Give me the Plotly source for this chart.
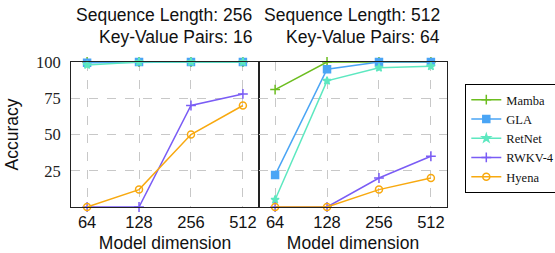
import plotly.graph_objects as go

dims = ["64", "128", "256", "512"]

# Left panel: Sequence Length 256, Key-Value Pairs 16
mamba_l = [100, 100, 100, 100]
gla_l = [99.5, 100, 100, 100]
retnet_l = [98, 100, 100, 100]
rwkv_l = [0, 0, 70, 78]
hyena_l = [0, 12, 50, 70]

# Right panel: Sequence Length 512, Key-Value Pairs 64
mamba_r = [81, 100, 100, 100]
gla_r = [22, 95, 100, 100]
retnet_r = [5, 87, 96, 97]
rwkv_r = [0, 0, 20, 35]
hyena_r = [0, 0, 12, 20]

titles = [("Sequence Length: 256", "Key-Value Pairs: 16"),
          ("Sequence Length: 512", "Key-Value Pairs: 64")]

series = [
    ("Mamba", "#6cbd1f", "cross-thin", 7, mamba_l, mamba_r),
    ("GLA", "#4aa5f5", "square", 7, gla_l, gla_r),
    ("RetNet", "#5de8c0", "star", 6, retnet_l, retnet_r),
    ("RWKV-4", "#7a5cf5", "cross-thin", 7, rwkv_l, rwkv_r),
    ("Hyena", "#f8a90f", "circle-open", 7, hyena_l, hyena_r),
]

fig = go.Figure()
for name, color, sym, size, left, right in series:
    for i, (vals, xa, ya) in enumerate([(left, "x", "y"), (right, "x2", "y2")]):
        fig.add_trace(go.Scatter(
            x=dims, y=vals, xaxis=xa, yaxis=ya, name=name,
            mode="lines+markers", showlegend=(i == 0), legendgroup=name,
            line=dict(color=color, width=1.5),
            marker=dict(symbol=sym, size=size, color=color,
                        line=dict(color=color, width=1.5)),
            cliponaxis=False,
        ))

W, H = 555, 253
ml, mr, mt, mb = 70.7, 108.3, 62, 46.3
pw = W - ml - mr
ph = H - mt - mb

grid = dict(showgrid=True, gridcolor="#c8c8c8", griddash="dash", gridwidth=1)
xcommon = dict(type="category", range=[-0.31, 3.31], showline=True, mirror=True,
               linecolor="#222", linewidth=1, ticks="", zeroline=False, automargin=False,
               tickfont=dict(family="Liberation Sans", size=16.5, color="#111"),
               title=dict(text="Model dimension", standoff=6,
                          font=dict(family="Liberation Sans", size=17.5, color="#111")),
               **grid)
ycommon = dict(range=[0, 100], tickvals=[25, 50, 75, 100], showline=True, mirror=True,
               linecolor="#222", linewidth=1, ticks="", zeroline=False, automargin=False,
               tickfont=dict(family="Liberation Serif", size=16.5, color="#222"),
               **grid)

fig.update_layout(
    width=W, height=H,
    margin=dict(l=ml, r=mr, t=mt, b=mb, pad=0, autoexpand=False),
    paper_bgcolor="white", plot_bgcolor="white",
    xaxis=dict(domain=[0, 0.5], anchor="y", **xcommon),
    xaxis2=dict(domain=[0.5, 1], anchor="y2", **xcommon),
    yaxis=dict(domain=[0, 1], anchor="x", ticklabelstandoff=6,
               title=dict(text="Accuracy", standoff=12,
                          font=dict(family="Liberation Sans", size=17.5, color="#111")),
               **ycommon),
    yaxis2=dict(domain=[0, 1], anchor="x2", showticklabels=False, **ycommon),
    showlegend=True,
    legend=dict(x=(465 - ml) / pw, y=1 - (84 - mt) / ph, xanchor="left", yanchor="top",
                bordercolor="black", borderwidth=1, bgcolor="white",
                font=dict(family="Liberation Serif", size=12.5, color="#111"),
                itemwidth=30, tracegroupgap=0),
)

for k, (l1, l2) in enumerate(titles):
    xr = 0.5 * (k + 1) - 5.5 / pw
    for j, txt in enumerate((l1, l2)):
        ypix = 15.5 + 22 * j
        fig.add_annotation(text=txt, xref="paper", yref="paper",
                           x=xr, y=1 + (mt - ypix) / ph, xanchor="right", yanchor="middle",
                           showarrow=False,
                           font=dict(family="Liberation Sans", size=17.5, color="#111"))

fig.write_html("out.html", config={"displayModeBar": False},
               post_script="document.body.style.margin='0px';document.body.style.overflow='hidden';")
